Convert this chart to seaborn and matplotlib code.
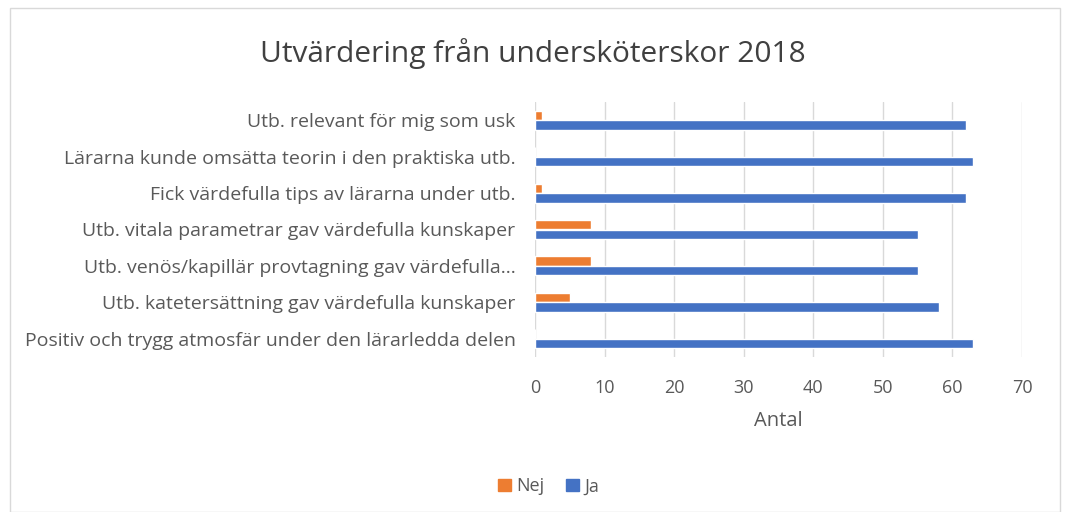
"""Utvärdering från undersköterskor 2018 - horizontal grouped bars"""
import matplotlib as mpl
mpl.use('Agg')
import matplotlib.pyplot as plt
from matplotlib.patches import Patch, Rectangle

import pandas as pd
import seaborn as sns

# data, top to bottom as in the chart
questions = ['Utb. relevant för mig som usk',
             'Lärarna kunde omsätta teorin i den praktiska utb.',
             'Fick värdefulla tips av lärarna under utb.',
             'Utb. vitala parametrar gav värdefulla kunskaper',
             'Utb. venös/kapillär provtagning gav värdefulla...',
             'Utb. katetersättning gav värdefulla kunskaper',
             'Positiv och trygg atmosfär under den lärarledda delen']
nej = [1, 0, 1, 8, 8, 5, 0]
ja = [62, 63, 62, 55, 55, 58, 63]
x_ticks = [0, 10, 20, 30, 40, 50, 60, 70]

orange = '#ED7D31'
blue = '#4472C4'
grey_text = '#595959'

sns.set_theme(style='white')
plt.rcParams.update({'font.family': ['Open Sans', 'DejaVu Sans'],
                     'text.color': grey_text,
                     'axes.labelcolor': grey_text,
                     'xtick.color': grey_text,
                     'ytick.color': grey_text})

df = pd.DataFrame({'fraga': questions * 2,
                   'svar': ['Nej'] * len(nej) + ['Ja'] * len(ja),
                   'antal': nej + ja})

fig = plt.figure(figsize=(10.65, 5.12), dpi=100)
ax = fig.add_axes([535 / 1065, 1 - 357 / 512, (1022 - 535) / 1065, (357 - 102) / 512])

sns.barplot(data=df, y='fraga', x='antal', hue='svar', hue_order=['Nej', 'Ja'],
            order=questions, palette=[orange, blue], width=0.52, orient='h',
            ax=ax, legend=False, saturation=1)

ax.set_xlim(0, 70)
ax.set_xticks(x_ticks)
ax.xaxis.grid(True, color='#d9d9d9', lw=1)
ax.set_axisbelow(True)
for s in ax.spines.values():
    s.set_visible(False)
ax.tick_params(axis='x', length=0, labelsize=13, pad=16)
ax.tick_params(axis='y', length=0, labelsize=14, pad=14)
ax.set_ylabel('')
ax.set_xlabel('Antal', fontsize=14.5, labelpad=10)

fig.suptitle('Utvärdering från undersköterskor 2018', fontsize=21.5, y=0.925, color='#404040')

handles = [Patch(color=orange, label='Nej'), Patch(color=blue, label='Ja')]
fig.legend(handles=handles, loc='center', bbox_to_anchor=(0.515, 0.05), ncol=2,
           frameon=False, fontsize=13, handlelength=0.7, handleheight=0.7,
           handletextpad=0.3, columnspacing=1.2)

# outer chart frame
fig.patches.append(Rectangle((10 / 1065, 0.0), 1050 / 1065, 0.985, transform=fig.transFigure,
                             fill=False, edgecolor='#d9d9d9', lw=1))

fig.savefig('out.png', dpi=100)
